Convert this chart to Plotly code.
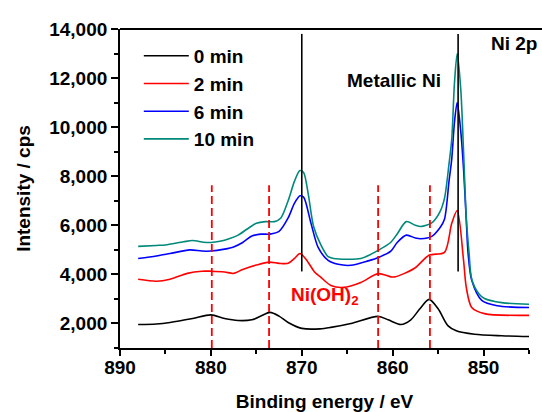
import plotly.graph_objects as go

# Ni 2p XPS spectra after successive sputtering times
energy_0 = [888, 886, 884.5, 882, 880, 878.5, 877, 875.5, 874.5, 873.5, 872.5, 871.5, 870,
            868, 866.8, 864.6, 861.6, 860.5, 859.1, 858, 857, 856, 855, 853.9, 853, 851, 848, 845]
counts_0 = [1960, 1980, 2040, 2200, 2350, 2200, 2120, 2150, 2300, 2450, 2300, 2040, 1800,
            1780, 1840, 2000, 2290, 2150, 1960, 2150, 2600, 2980, 2600, 1900, 1700, 1560, 1500, 1470]

energy_2 = [888, 886, 884.5, 882.6, 881, 880, 878.5, 877.5, 876.5, 875, 873.6, 872.5, 871.5, 870.8,
            870.2, 869.5, 868.6, 867.9, 866.8, 865.4, 863.5, 861.6, 860.2, 859.7, 857.6, 856, 854.3,
            853.5, 852.9, 852.2, 851.9, 851.3, 849.9, 845]
counts_2 = [3800, 3720, 3800, 4040, 4130, 4130, 4100, 4040, 4200, 4380, 4500, 4450, 4450, 4650,
            4850, 4600, 4100, 3880, 3550, 3470, 3670, 4030, 3900, 3900, 4250, 4780, 4900,
            6080, 6600, 4570, 3470, 2650, 2400, 2330]

energy_6 = [888, 886, 884.5, 882.3, 881, 880, 878.5, 877.5, 876.5, 875.5, 874.5, 873.5, 872.5,
            871.5, 870.8, 870.2, 869.8, 869, 868.2, 867.1, 866, 864.6, 862.7, 861.5, 860.2, 859.5,
            858.5, 857.5, 856.9, 855.7, 854.8, 854.3, 853.8, 853.5, 853.2, 852.9, 852.5, 852.2,
            851.9, 851.7, 851.3, 850.2, 848.5, 845]
counts_6 = [4650, 4750, 4850, 5000, 4950, 4950, 5030, 5120, 5300, 5560, 5640, 5640, 5750,
            6300, 6900, 7200, 7150, 6100, 5100, 4570, 4410, 4370, 4550, 4700, 4950, 5300,
            5600, 5480, 5450, 5550, 5900, 6250, 7800, 8700, 10200, 11000, 9800, 8300,
            6200, 4850, 3760, 2940, 2720, 2650]

energy_10 = [888, 886, 885, 883, 882, 880.8, 880, 879, 878, 877, 876, 875, 874, 873, 872.3,
             871.5, 870.8, 870.2, 869.8, 869.3, 868.7, 867.9, 867.1, 866.5, 863.5, 861.6, 860.2,
             859.5, 858.5, 857.5, 856.9, 855.7, 854.8, 854.3, 853.8, 853.5, 853.2, 852.9, 852.5,
             852.2, 851.9, 851.6, 851.3, 850.5, 849.9, 848, 845]
counts_10 = [5140, 5180, 5200, 5330, 5380, 5310, 5300, 5350, 5450, 5600, 5850, 6080, 6150, 6150, 6300,
             7000, 7800, 8230, 8150, 7300, 5950, 5200, 4720, 4650, 4650, 4980, 5310,
             5650, 6150, 6000, 5950, 6100, 6550, 7100, 8500, 9500, 11800, 13000, 11500,
             9000, 6300, 4900, 3800, 3200, 3020, 2850, 2780]

series_names = ["0 min", "2 min", "6 min", "10 min"]
series_colors = ["#000000", "#ff0000", "#0000ff", "#00897b"]

# reference energies
metallic_ni = [870.0, 852.8]
nioh2 = [879.9, 873.6, 861.6, 855.9]

FONT = "Liberation Sans, Arial, sans-serif"
FS = 19

fig = go.Figure()
for e, c, name, col in zip([energy_0, energy_2, energy_6, energy_10],
                           [counts_0, counts_2, counts_6, counts_10],
                           series_names, series_colors):
    fig.add_trace(go.Scatter(x=e, y=c, mode="lines", name=name,
                             line=dict(color=col, width=1.6, shape="spline", smoothing=0.8)))

for xe in metallic_ni:
    fig.add_shape(type="line", xref="x", yref="y", x0=xe, x1=xe, y0=4120, y1=13800,
                  line=dict(color="black", width=1.6))
for xe in nioh2:
    fig.add_shape(type="line", xref="x", yref="y", x0=xe, x1=xe, y0=1000, y1=7630,
                  line=dict(color="#ff0000", width=1.8, dash="8px,4px"))

# top frame line
fig.add_shape(type="line", xref="paper", yref="paper", x0=0, x1=1.04, y0=1, y1=1,
              line=dict(color="black", width=1.8))

fig.add_annotation(x=859.8, y=11920, text="Metallic Ni", showarrow=False,
                   font=dict(family=FONT, size=FS, color="black", weight="bold"))
fig.add_annotation(x=846.6, y=13400, text="Ni 2p", showarrow=False,
                   font=dict(family=FONT, size=FS, color="black", weight="bold"))
fig.add_annotation(x=867.4, y=3100, text="Ni(OH)<sub>2</sub>", showarrow=False,
                   font=dict(family=FONT, size=FS, color="#ff0000", weight="bold"))

tickfont = dict(family=FONT, size=FS, color="black", weight="bold")

fig.update_layout(
    width=542, height=412,
    margin=dict(l=120, r=13, t=29, b=64),
    paper_bgcolor="white", plot_bgcolor="white",
    showlegend=True,
    legend=dict(x=0.046, y=0.975, xanchor="left", yanchor="top",
                bgcolor="rgba(0,0,0,0)", borderwidth=0,
                font=dict(family=FONT, size=FS, color="black", weight="bold"),
                itemwidth=45, tracegroupgap=0),
    xaxis=dict(range=[890, 845], tickvals=[890, 880, 870, 860, 850],
               automargin=False,
               showgrid=False, zeroline=False,
               showline=True, linecolor="black", linewidth=1.8,
               ticks="outside", ticklen=6, tickwidth=1.8, tickcolor="black",
               ticklabelstandoff=-5,
               minor=dict(dtick=5, ticks="outside", ticklen=4, tickwidth=1.5, tickcolor="black"),
               tickfont=tickfont,
               title=dict(text="Binding energy / eV", standoff=27,
                          font=dict(family=FONT, size=FS, color="black", weight="bold"))),
    yaxis=dict(range=[1000, 14000], tickvals=[2000, 4000, 6000, 8000, 10000, 12000, 14000],
               tickformat=",d",
               automargin=False,
               showgrid=False, zeroline=False,
               showline=True, linecolor="black", linewidth=1.8,
               ticks="outside", ticklen=7, tickwidth=1.8, tickcolor="black",
               minor=dict(dtick=1000, tick0=1000, ticks="outside", ticklen=4, tickwidth=1.5,
                          tickcolor="black"),
               tickfont=tickfont,
               title=dict(text="Intensity / cps", standoff=14,
                          font=dict(family=FONT, size=FS, color="black", weight="bold"))),
)

fig.write_html("out.html")
